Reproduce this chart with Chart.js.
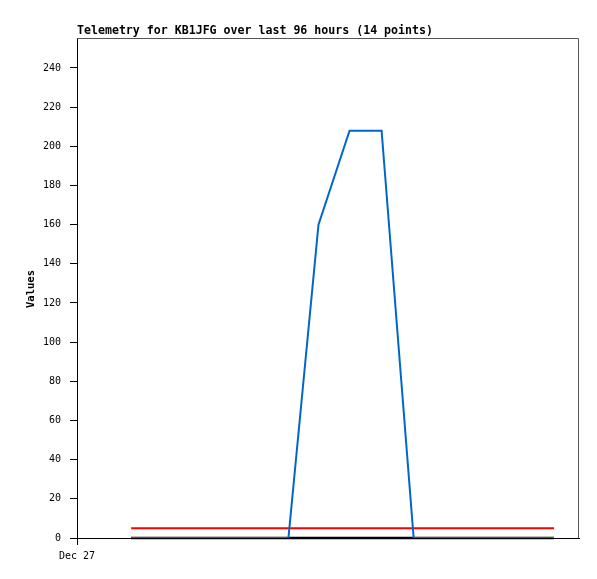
<!DOCTYPE html>
<html>
<head>
<meta charset="utf-8">
<script src="https://cdn.jsdelivr.net/npm/chart.js@4.4.1/dist/chart.umd.min.js"></script>
<style>
  html, body { margin: 0; padding: 0; background: #fff; }
  #wrap { width: 597px; height: 579px; }
</style>
</head>
<body>
<div id="wrap"><canvas id="telemetry"></canvas></div>
<script>
// Hours since Dec 27 00:00 for each of the 14 samples
const hours = [10.35, 16.29, 22.42, 28.36, 34.49, 40.43, 46.18, 52.12, 58.25, 64.38, 71.09, 77.8, 84.5, 91.21];
const channelA = [0, 0, 0, 0, 0, 0, 160, 208, 208, 0, 0, 0, 0, 0];
const channelB = [5, 5, 5, 5, 5, 5, 5, 5, 5, 5, 5, 5, 5, 5];
const channelC = [0, 0, 0, 0, 0, 0, 0, 0, 0, 0, 0, 0, 0, 0];
const yTicks = [0, 20, 40, 60, 80, 100, 120, 140, 160, 180, 200, 220, 240];
const xTickLabels = { 0: 'Dec 27' };

const TITLE = 'Telemetry for KB1JFG over last 96 hours (14 points)';
const MONO = "'DejaVu Sans Mono', monospace";

const toPoints = (vals) => vals.map((v, i) => ({ x: hours[i], y: v }));

// Frame, chart title and y axis caption
const framePlugin = {
    id: 'frame',
    afterDraw(chart) {
        const { ctx, chartArea: a } = chart;
        ctx.save();
        ctx.lineWidth = 1;
        ctx.strokeStyle = '#555';
        ctx.beginPath();
        ctx.moveTo(a.left, a.top + 0.5);
        ctx.lineTo(a.right - 0.5, a.top + 0.5);
        ctx.lineTo(a.right - 0.5, a.bottom);
        ctx.stroke();

        ctx.fillStyle = '#000';
        ctx.font = 'bold 11.6px ' + MONO;
        ctx.textAlign = 'left';
        ctx.textBaseline = 'middle';
        ctx.fillText(TITLE, a.left, 31);

        ctx.translate(31.5, 289);
        ctx.rotate(-Math.PI / 2);
        ctx.font = 'bold 10.5px ' + MONO;
        ctx.textAlign = 'center';
        ctx.fillText('Values', 0, 0);
        ctx.restore();
    }
};

new Chart(document.getElementById('telemetry'), {
    type: 'line',
    data: {
        datasets: [
            { data: toPoints(channelA), borderColor: '#0066cc', borderWidth: 2 },
            { data: toPoints(channelB), borderColor: '#ff0000', borderWidth: 2 },
            { data: toPoints(channelC), borderColor: '#000000', borderWidth: 2.5, clip: 4 }
        ]
    },
    options: {
        responsive: true,
        maintainAspectRatio: false,
        animation: false,
        elements: { point: { radius: 0 }, line: { tension: 0 } },
        layout: { padding: { top: 38, right: 18, left: 0, bottom: 0 } },
        plugins: { legend: { display: false }, tooltip: { enabled: false } },
        scales: {
            x: {
                type: 'linear',
                min: 0,
                max: 96,
                afterBuildTicks: (s) => { s.ticks = Object.keys(xTickLabels).map((v) => ({ value: +v })); },
                afterFit: (s) => { s.height = 41; },
                ticks: {
                    callback: (v) => xTickLabels[v] || '',
                    color: '#000',
                    font: { family: MONO, size: 10 },
                    maxRotation: 0,
                    autoSkip: false,
                    padding: 5
                },
                grid: { drawOnChartArea: false, tickLength: 7, color: '#000' },
                border: { color: '#000', width: 1 }
            },
            y: {
                min: 0,
                max: 255.3,
                afterBuildTicks: (s) => { s.ticks = yTicks.map((v) => ({ value: v })); },
                afterFit: (s) => { s.width = 77; },
                ticks: {
                    color: '#000',
                    font: { family: MONO, size: 10 },
                    padding: 9
                },
                grid: { drawOnChartArea: false, tickLength: 7, color: '#000' },
                border: { color: '#000', width: 1 }
            }
        }
    },
    plugins: [framePlugin]
});
</script>
</body>
</html>
